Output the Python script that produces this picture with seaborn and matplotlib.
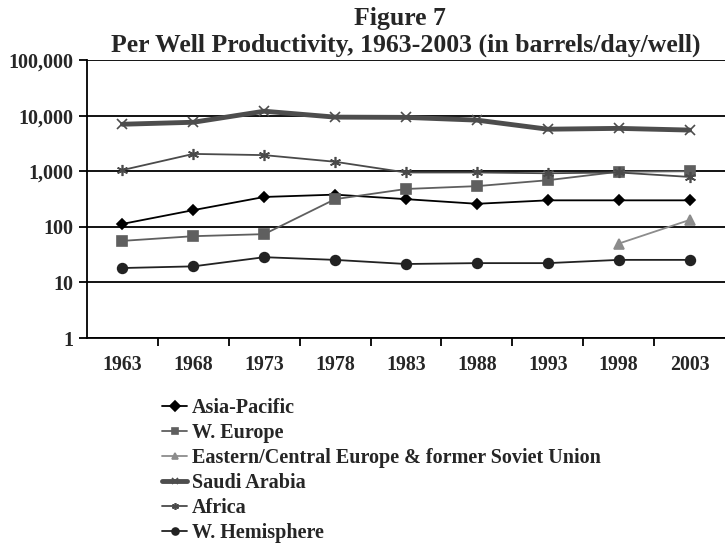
import matplotlib
matplotlib.use("Agg")
import matplotlib.pyplot as plt
import matplotlib.ticker as mticker
import numpy as np
import pandas as pd
import seaborn as sns

years = [1963, 1968, 1973, 1978, 1983, 1988, 1993, 1998, 2003]

asia_pacific = [113, 200, 345, 380, 315, 260, 300, 300, 300]
w_europe = [56, 68, 74, 315, 480, 540, 690, 980, 1000]
eastern_europe = [np.nan, np.nan, np.nan, np.nan, np.nan, np.nan, np.nan, 50, 133]
saudi_arabia = [7000, 7600, 12000, 9400, 9300, 8300, 5700, 5900, 5500]
africa = [1050, 2050, 1950, 1480, 950, 950, 920, 950, 790]
w_hemisphere = [18.2, 19.5, 28.5, 25.5, 21.5, 22.3, 22.3, 25.5, 25.5]

series_names = ["Asia-Pacific", "W. Europe",
                "Eastern/Central Europe & former Soviet Union",
                "Saudi Arabia", "Africa", "W. Hemisphere"]
series_values = [asia_pacific, w_europe, eastern_europe, saudi_arabia, africa, w_hemisphere]

# style per series: colour, marker, marker size, line width
styles = {
    "Asia-Pacific": ("#000000", "D", 5, 1.3),
    "W. Europe": ("#5f5f5f", "s", 7, 1.3),
    "Eastern/Central Europe & former Soviet Union": ("#8c8c8c", "^", 7, 1.3),
    "Saudi Arabia": ("#4d4d4d", "x", 7, 3.5),
    "Africa": ("#4a4a4a", (6, 2, 0), 8, 1.3),
    "W. Hemisphere": ("#222222", "o", 7, 1.3),
}

rows = []
for name, vals in zip(series_names, series_values):
    for y, v in zip(years, vals):
        rows.append({"year": y, "value": v, "region": name})
df = pd.DataFrame(rows)

sns.set_style("white")
plt.rcParams["font.family"] = ["Liberation Serif", "DejaVu Serif"]
plt.rcParams["font.weight"] = "bold"

fig = plt.figure(figsize=(7.25, 5.48), dpi=100)
ax = fig.add_axes([0.12, 0.383, 0.88, 0.5075])

for name in series_names:
    color, marker, ms, lw = styles[name]
    sub = df[df["region"] == name].dropna()
    sns.lineplot(data=sub, x="year", y="value", ax=ax, color=color, marker=marker,
                 markersize=ms, linewidth=lw, markeredgecolor=color,
                 markeredgewidth=1.2, label=name, sort=False)

ax.set_yscale("log")
ax.set_ylim(1, 100000)
ax.set_xlim(years[0] - 2.5, years[-1] + 2.5)
ax.set_xticks(years)
ax.set_xticklabels([str(y) for y in years], fontsize=14.3, fontweight="bold")
# category boundary ticks
ax.set_xticks([y + 2.5 for y in years[:-1]], minor=True)
ax.yaxis.set_major_locator(mticker.LogLocator(base=10, numticks=10))
ax.yaxis.set_minor_locator(mticker.NullLocator())
ax.yaxis.set_major_formatter(mticker.FuncFormatter(lambda v, p: f"{int(round(v)):,}"))
for lab in ax.get_yticklabels():
    lab.set_fontsize(14.5)
    lab.set_fontweight("bold")

ax.grid(axis="y", color="black", linewidth=1.3)
ax.set_axisbelow(True)
for s in ["top", "right"]:
    ax.spines[s].set_visible(False)
ax.spines["left"].set_color("black")
ax.spines["left"].set_linewidth(1.3)
ax.spines["bottom"].set_color("black")
ax.spines["bottom"].set_linewidth(1.3)
ax.tick_params(axis="y", which="major", left=True, length=6, width=1.3, color="black", pad=4)
ax.tick_params(axis="x", which="major", bottom=False, pad=9)
ax.tick_params(axis="x", which="minor", bottom=True, length=6, width=1.3, color="black")
ax.set_xlabel("")
ax.set_ylabel("")

fig.text(0.552, 0.967, "Figure 7", ha="center", va="center", fontsize=18.5, fontweight="bold")
fig.text(0.559, 0.917, "Per Well Productivity, 1963-2003 (in barrels/day/well)",
         ha="center", va="center", fontsize=18.5, fontweight="bold")

leg = ax.legend(loc="upper left", bbox_to_anchor=(0.2234, 0.2737),
                bbox_transform=fig.transFigure, frameon=False,
                fontsize=14.5, handlelength=1.25, handletextpad=0.25,
                labelspacing=0.245, borderaxespad=0, borderpad=0)
for line in leg.get_lines():
    line.set_markersize(5)

fig.savefig("out.png", dpi=100)
